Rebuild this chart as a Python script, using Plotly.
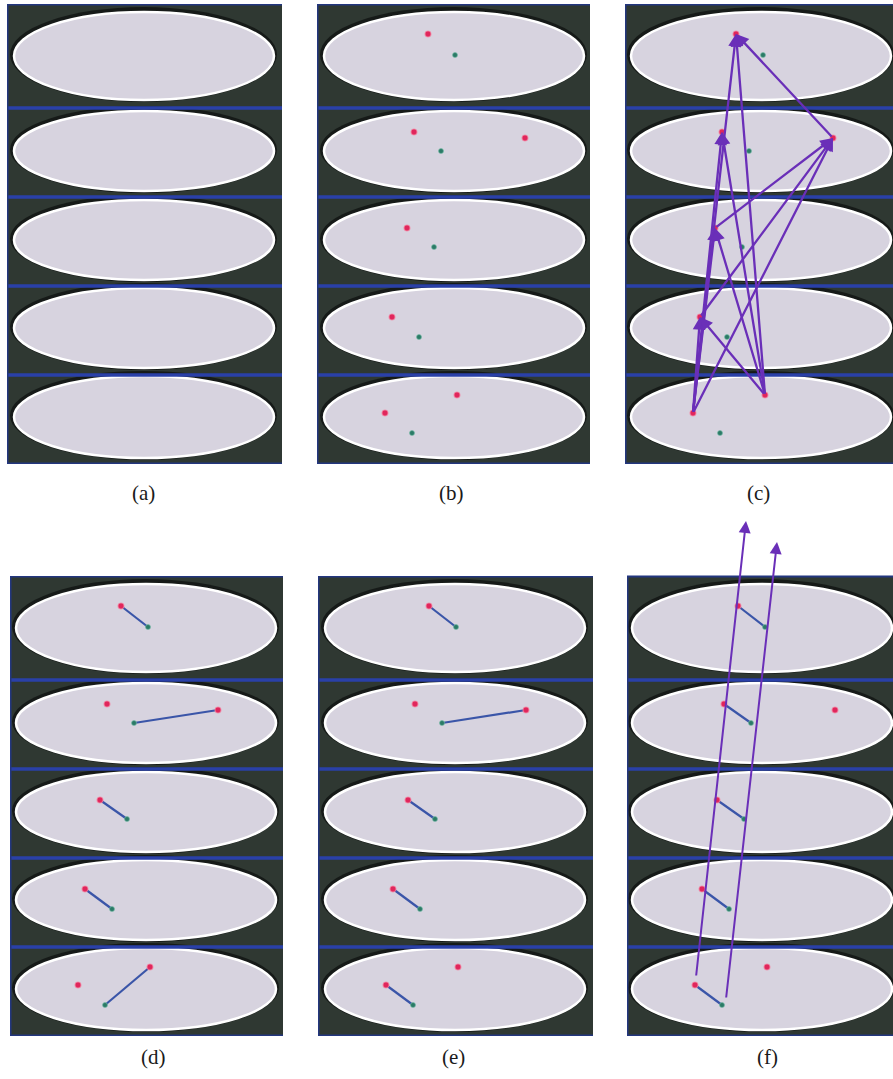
import plotly.graph_objects as go

PAGE_W, PAGE_H = 893, 1079

# ---------------- data ----------------
PANEL_LABELS = ["(a)", "(b)", "(c)", "(d)", "(e)", "(f)"]

# red detections (panel-local pixel coordinates), strip index 1..5
RED_STRIP = [1, 2, 2, 3, 4, 5, 5]
RED_X = [111, 97, 208, 90, 75, 68, 140]
RED_Y = [30, 128, 134, 224, 313, 409, 391]

# green detections
GREEN_STRIP = [1, 2, 3, 4, 5]
GREEN_X = [138, 124, 117, 102, 95]
GREEN_Y = [51, 147, 243, 333, 429]

# which points each panel shows
SHOW_POINTS = [False, True, True, True, True, True]

# candidate links in (c): (from red index, to red index)
C_ARROW_FROM = [5, 5, 5, 5, 5, 6, 6, 6, 6, 4, 3, 2]
C_ARROW_TO =   [4, 3, 1, 2, 0, 4, 3, 1, 0, 2, 2, 0]

# red-green pairings (red index, green index) for (d), (e), (f)
D_PAIRS_RED = [0, 2, 3, 4, 6]
D_PAIRS_GREEN = [0, 1, 2, 3, 4]
E_PAIRS_RED = [0, 2, 3, 4, 5]
E_PAIRS_GREEN = [0, 1, 2, 3, 4]
F_PAIRS_RED = [0, 1, 3, 4, 5]
F_PAIRS_GREEN = [0, 1, 2, 3, 4]

# fitted tracks in (f): start -> tip
F_TRACK_X0 = [69, 99]
F_TRACK_Y0 = [401, 423]
F_TRACK_X1 = [119, 150]
F_TRACK_Y1 = [-55, -34]

# ---------------- layout constants ----------------
PANEL_LEFT = [7, 317, 625, 10, 318, 627]
PANEL_TOP = [4, 4, 4, 576, 576, 576]
PANEL_W = [275, 273, 268, 273, 275, 266]
PANEL_H = 460
PANEL_EXTRA_TOP = [0, 0, 0, 0, 0, 78]
ELL_CX = [137, 137, 136, 136, 137, 135]
LABEL_X = [143, 451, 758, 153, 453, 767]
LABEL_Y = [493, 493, 493, 1057, 1057, 1057]

STRIP_EDGES = [0, 104, 193, 282, 371, 460]
ELL_CY = [52, 147, 236, 324, 413]
ELL_RY = [44, 40, 40, 40, 41]
ELL_RX = 130

BG = "#2f3832"
ELL_FILL = "#d7d3df"
SEP_BLUE = "#2a40a8"
RED = "#e0265c"
GREEN = "#2b7a66"
LINK_BLUE = "#3a55a8"
PURPLE = "#6a2fb8"

fig = go.Figure()
shapes = []
annotations = []
layout_axes = {}

for i in range(6):
    n = "" if i == 0 else str(i + 1)
    xa, ya = "x" + n, "y" + n
    left, top, w = PANEL_LEFT[i], PANEL_TOP[i], PANEL_W[i]
    extra = PANEL_EXTRA_TOP[i]
    layout_axes["xaxis" + n] = dict(
        domain=[left / PAGE_W, (left + w) / PAGE_W], range=[0, w],
        visible=False, fixedrange=True, anchor=ya)
    layout_axes["yaxis" + n] = dict(
        domain=[1 - (top + PANEL_H) / PAGE_H, 1 - (top - extra) / PAGE_H],
        range=[PANEL_H, -extra], visible=False, fixedrange=True, anchor=xa)

    # dark background
    shapes.append(dict(type="rect", xref=xa, yref=ya, x0=0, x1=w + 10, y0=0, y1=PANEL_H,
                       fillcolor=BG, line=dict(width=0), layer="below"))
    cx = ELL_CX[i]
    for k in range(5):
        cy, ry = ELL_CY[k], ELL_RY[k]
        # dark halo
        shapes.append(dict(type="circle", xref=xa, yref=ya,
                           x0=cx - ELL_RX - 4, x1=cx + ELL_RX + 3,
                           y0=cy - ry - 5, y1=cy + ry + 2,
                           fillcolor="#0c0e0d", opacity=0.7, line=dict(width=0), layer="below"))
        shapes.append(dict(type="circle", xref=xa, yref=ya,
                           x0=cx - ELL_RX, x1=cx + ELL_RX, y0=cy - ry, y1=cy + ry,
                           fillcolor=ELL_FILL, line=dict(color="white", width=2.5), layer="below"))
    for e in STRIP_EDGES[1:-1]:
        shapes.append(dict(type="line", xref=xa, yref=ya, x0=0, x1=w + 10, y0=e, y1=e,
                           line=dict(color=SEP_BLUE, width=3.5), layer="below"))
    shapes.append(dict(type="rect", xref=xa, yref=ya, x0=0.5, x1=w + 10, y0=0.5, y1=PANEL_H - 0.5,
                       fillcolor="rgba(0,0,0,0)", line=dict(color="#23367e", width=2), layer="below"))

    annotations.append(dict(text=PANEL_LABELS[i], xref="paper", yref="paper",
                            x=LABEL_X[i] / PAGE_W, y=1 - LABEL_Y[i] / PAGE_H,
                            showarrow=False, xanchor="center", yanchor="middle",
                            font=dict(family="Liberation Serif", size=21, color="#1a1a1a")))

    # links
    pairs = {3: (D_PAIRS_RED, D_PAIRS_GREEN), 4: (E_PAIRS_RED, E_PAIRS_GREEN),
             5: (F_PAIRS_RED, F_PAIRS_GREEN)}
    if i in pairs:
        pr, pg = pairs[i]
        lx, ly = [], []
        for r, g in zip(pr, pg):
            lx += [RED_X[r], GREEN_X[g], None]
            ly += [RED_Y[r], GREEN_Y[g], None]
        fig.add_trace(go.Scatter(x=lx, y=ly, mode="lines", xaxis=xa, yaxis=ya,
                                 line=dict(color=LINK_BLUE, width=2.2), hoverinfo="skip"))

    if SHOW_POINTS[i]:
        fig.add_trace(go.Scatter(x=GREEN_X, y=GREEN_Y, mode="markers", xaxis=xa, yaxis=ya,
                                 marker=dict(color=GREEN, size=5,
                                             line=dict(color="rgba(120,190,170,0.6)", width=1)),
                                 hoverinfo="skip"))
        fig.add_trace(go.Scatter(x=RED_X, y=RED_Y, mode="markers", xaxis=xa, yaxis=ya,
                                 marker=dict(color=RED, size=6,
                                             line=dict(color="rgba(245,130,160,0.7)", width=1.2)),
                                 hoverinfo="skip"))

    if i == 2:
        for a, b in zip(C_ARROW_FROM, C_ARROW_TO):
            annotations.append(dict(x=RED_X[b], y=RED_Y[b], ax=RED_X[a], ay=RED_Y[a],
                                    xref=xa, yref=ya, axref=xa, ayref=ya, text="",
                                    showarrow=True, arrowhead=2, arrowsize=1.1,
                                    arrowwidth=2.3, arrowcolor=PURPLE, standoff=0))
    if i == 5:
        for x0, y0, x1, y1 in zip(F_TRACK_X0, F_TRACK_Y0, F_TRACK_X1, F_TRACK_Y1):
            annotations.append(dict(x=x1, y=y1, ax=x0, ay=y0,
                                    xref=xa, yref=ya, axref=xa, ayref=ya, text="",
                                    showarrow=True, arrowhead=2, arrowsize=1.2,
                                    arrowwidth=2, arrowcolor=PURPLE, standoff=0))

fig.update_layout(width=PAGE_W, height=PAGE_H, margin=dict(l=0, r=0, t=0, b=0),
                  paper_bgcolor="white", plot_bgcolor="rgba(0,0,0,0)",
                  showlegend=False, shapes=shapes, annotations=annotations,
                  **layout_axes)

fig.write_html("out.html")
